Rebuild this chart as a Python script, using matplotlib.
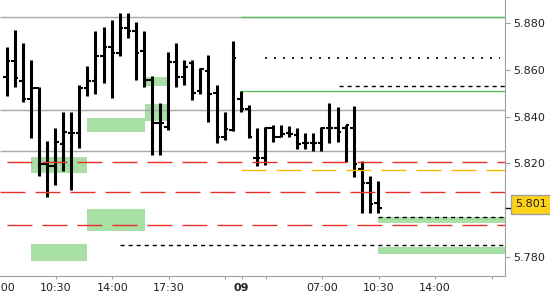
import numpy as np
import matplotlib
matplotlib.use("Agg")
from matplotlib import pyplot as plt  # noqa
from matplotlib import transforms

# 30 minute bars
opens = [5.8570, 5.8639, 5.8553, 5.8476, 5.8523, 5.8198, 5.8189, 5.8283, 5.8331, 5.8331,
         5.8523, 5.8553, 5.8660, 5.8699, 5.8673, 5.8780, 5.8767, 5.8681, 5.8557, 5.8373,
         5.8356, 5.8634, 5.8570, 5.8630, 5.8510, 5.8596, 5.8502, 5.8313, 5.8343, 5.8476,
         5.8433, 5.8223, 5.8223, 5.8352, 5.8313, 5.8330, 5.8322, 5.8287, 5.8287, 5.8287,
         5.8352, 5.8352, 5.8352, 5.8352, 5.8176, 5.8116, 5.8031]
highs = [5.8699, 5.8771, 5.8716, 5.8643, 5.8527, 5.8296, 5.8352, 5.8420, 5.8420, 5.8536,
         5.8617, 5.8767, 5.8784, 5.8814, 5.8844, 5.8844, 5.8806, 5.8767, 5.8574, 5.8459,
         5.8678, 5.8716, 5.8643, 5.8643, 5.8609, 5.8664, 5.8536, 5.8420, 5.8724, 5.8510,
         5.8450, 5.8352, 5.8356, 5.8365, 5.8365, 5.8361, 5.8352, 5.8331, 5.8331, 5.8356,
         5.8459, 5.8442, 5.8365, 5.8446, 5.8210, 5.8146, 5.8125]
lows = [5.8489, 5.8527, 5.8463, 5.8309, 5.8146, 5.8057, 5.8108, 5.8168, 5.8087, 5.8266,
        5.8489, 5.8497, 5.8544, 5.8480, 5.8660, 5.8737, 5.8557, 5.8527, 5.8236, 5.8236,
        5.8343, 5.8527, 5.8536, 5.8472, 5.8497, 5.8377, 5.8287, 5.8300, 5.8339, 5.8420,
        5.8309, 5.8189, 5.8193, 5.8292, 5.8313, 5.8313, 5.8262, 5.8262, 5.8253, 5.8253,
        5.8287, 5.8292, 5.8206, 5.8142, 5.7987, 5.7987, 5.7987]
closes = [5.8639, 5.8566, 5.8476, 5.8523, 5.8198, 5.8189, 5.8292, 5.8335, 5.8331, 5.8523,
          5.8553, 5.8660, 5.8699, 5.8673, 5.8780, 5.8767, 5.8673, 5.8557, 5.8373, 5.8373,
          5.8634, 5.8570, 5.8613, 5.8502, 5.8604, 5.8497, 5.8313, 5.8347, 5.8651, 5.8433,
          5.8313, 5.8223, 5.8352, 5.8313, 5.8326, 5.8326, 5.8283, 5.8287, 5.8287, 5.8352,
          5.8352, 5.8335, 5.8365, 5.8198, 5.8116, 5.8026, 5.8010]
last_price = 5.801

# levels (value, first bar index)
gray_levels = [5.8825, 5.8429, 5.8253]
green_levels = [5.8828, 5.8510]
green_start = 29.0
red_levels = [5.8204, 5.8075, 5.7934]
orange_level = 5.8171
orange_start = 29.0
dotted_level = 5.8651
dotted_span = [32.0, 61.1]
black_dashed_levels = [5.8531, 5.7851, 5.7972]
black_dashed_starts = [41.2, 14.0, 46.0]

# zones
zone_x0 = [17.1, 17.1, 10.0, 3.0, 10.0, 3.0, 46.0, 46.0]
zone_x1 = [19.9, 19.9, 17.1, 10.0, 17.1, 10.0, 70.0, 70.0]
zone_lo = [5.8531, 5.8381, 5.8334, 5.8157, 5.7910, 5.7781, 5.7946, 5.7813]
zone_hi = [5.8570, 5.8454, 5.8394, 5.8226, 5.8004, 5.7854, 5.7972, 5.7843]

tick_pos = [6.1, 13.1, 20.1, 27.1, 29.1, 32.1, 39.1, 46.1, 53.1, 60.1]
tick_labels = ['10:30', '14:00', '17:30', '', '09', '', '07:00', '10:30', '14:00', '']
cut_label_pos = -0.9
cut_label = '07:00'
y_ticks = [5.78, 5.82, 5.84, 5.86, 5.88]

xmin, xmax = -0.83, 61.75
ymin, ymax = 5.7717, 5.8900

fig = plt.figure(figsize=(5.5, 3), dpi=100)
ax = fig.add_axes([0, 0.08, 505 / 550, 0.92])
ax.set_xlim(xmin, xmax)
ax.set_ylim(ymin, ymax)

for x0, x1, lo, hi in zip(zone_x0, zone_x1, zone_lo, zone_hi):
    ax.fill_between([x0, x1], lo, hi, color='#a8dfa5', lw=0, zorder=1)

x = np.arange(len(opens))
ax.vlines(x, lows, highs, color='black', lw=2.2, zorder=3)
ax.hlines(opens, x - 0.45, x, color='black', lw=1.5, zorder=3)
ax.hlines(closes, x, x + 0.45, color='black', lw=1.5, zorder=3)

ax.hlines(gray_levels, xmin, xmax, color='#a8a8a8', lw=1, zorder=2)
ax.hlines(green_levels, green_start, xmax, color='#5cbf5c', lw=1, zorder=2)
for i, lv in enumerate(red_levels):
    off = 0 if i == 1 else 20.2
    ax.plot([xmin, xmax], [lv, lv], color='#e8302a', lw=1, linestyle=(off, (18, 7.2)), zorder=4)
ax.plot([orange_start, xmax], [orange_level, orange_level], color='#ffb400', lw=1,
        linestyle=(0, (18, 7.2)), zorder=4)
ax.plot(dotted_span, [dotted_level, dotted_level], color='black', lw=1.2,
        linestyle=(0, (1.2, 4.2)), zorder=4)
for lv, st in zip(black_dashed_levels, black_dashed_starts):
    ax.plot([st, xmax], [lv, lv], color='black', lw=1, linestyle=(0, (3, 2.8)), zorder=4)

for s in ['top', 'left']:
    ax.spines[s].set_visible(False)
for s in ['right', 'bottom']:
    ax.spines[s].set_color('#a0a0a0')

ax.yaxis.tick_right()
ax.set_yticks(y_ticks)
ax.set_yticklabels(['%.3f' % v for v in y_ticks])
ax.set_xticks(tick_pos)
ax.set_xticklabels(tick_labels)
ax.tick_params(axis='both', colors='#a0a0a0', labelcolor='#202020', labelsize=8, width=0.8)
ax.tick_params(axis='y', length=3.6, pad=2.5)
ax.tick_params(axis='x', length=2.5, pad=2.5)
ax.get_xticklabels()[4].set_fontweight('bold')

ax.text(cut_label_pos, -0.025, cut_label, transform=ax.get_xaxis_transform(), ha='center', va='top',
        fontsize=8, color='#202020', clip_on=False)

# last price marker
trans = transforms.blended_transform_factory(ax.transAxes, ax.transData)
ax.plot([1.0, 1.01], [last_price, last_price], color='black', lw=1, transform=trans, clip_on=False)
ax.text(1.02, last_price + 0.0015, '%.3f' % last_price, transform=trans, ha='left', va='center',
        fontsize=8, color='#202020',
        bbox=dict(boxstyle='square,pad=0.4', fc='#ffd21a', ec='#a0a0a0', lw=1))

fig.savefig('out.png', dpi=100)
